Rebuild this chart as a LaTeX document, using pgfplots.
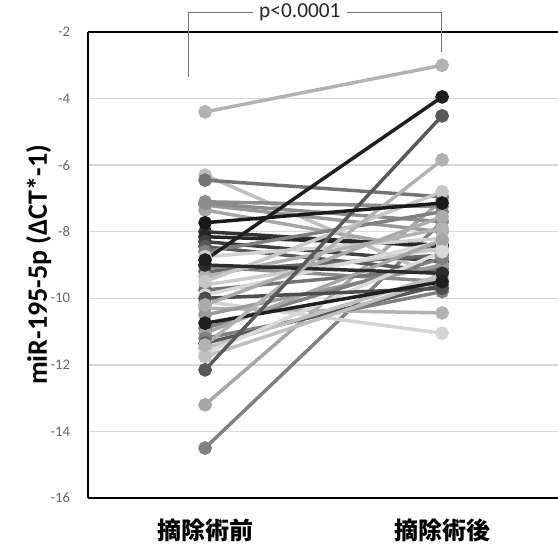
\documentclass[border=0pt]{standalone}
\usepackage{fontspec}
\setmainfont{Carlito}
\newfontfamily\cjk{Noto Sans CJK JP}
\usepackage{pgfplots}
\pgfplotsset{compat=1.18}

\begin{document}
\begin{tikzpicture}
\pgfplotsset{pair/.style={line width=2.6pt, mark=*, mark size=3.8pt, mark options={solid}}}
\begin{axis}[
    scale only axis,
    width=352.5pt, height=349.5pt,
    at={(0,0)}, anchor=south west,
    xmin=0.506, xmax=2.489,
    ymin=-16, ymax=-2,
    axis x line*=box, axis y line*=left,
    axis line style={black, line width=1pt},
    xtick={1,2},
    xticklabels={摘除術前,摘除術後},
    xticklabel style={font=\cjk\bfseries\fontsize{18}{21}\selectfont, yshift=-12pt},
    ytick={-16,-14,-12,-10,-8,-6,-4,-2},
    yticklabels={-16,-14,-12,-10,-8,-6,-4,-2},
    yticklabel style={font=\fontsize{11}{13}\selectfont, text=black!60, xshift=-10pt},
    major tick length=0pt,
    ymajorgrids,
    grid style={black!15, line width=1pt},
    ylabel={\bfseries miR-195-5p (ΔCT*-1)},
    every axis y label/.style={at={(axis description cs:-0.105,0.5)}, rotate=90, anchor=center, font=\fontsize{21}{24}\selectfont},
    clip=false,
]
% one line per patient: before / after
\addplot[pair, color=black!30] coordinates {(1,-4.4) (2,-3.0)};
\addplot[pair, color=black!50] coordinates {(1,-14.5) (2,-7.7)};
\addplot[pair, color=black!35] coordinates {(1,-13.2) (2,-7.05)};
\addplot[pair, color=black!25] coordinates {(1,-6.3) (2,-9.4)};
\addplot[pair, color=black!55] coordinates {(1,-6.45) (2,-6.95)};
\addplot[pair, color=black!45] coordinates {(1,-7.1) (2,-7.25)};
\addplot[pair, color=black!40] coordinates {(1,-7.2) (2,-8.0)};
\addplot[pair, color=black!35] coordinates {(1,-7.35) (2,-8.6)};
\addplot[pair, color=black!45] coordinates {(1,-7.15) (2,-7.7)};
\addplot[pair, color=black!80] coordinates {(1,-8.0) (2,-8.45)};
\addplot[pair, color=black!85] coordinates {(1,-8.15) (2,-8.4)};
\addplot[pair, color=black!75] coordinates {(1,-8.3) (2,-8.9)};
\addplot[pair, color=black!65] coordinates {(1,-8.45) (2,-9.2)};
\addplot[pair, color=black!50] coordinates {(1,-8.6) (2,-7.4)};
\addplot[pair, color=black!18] coordinates {(1,-8.75) (2,-8.2)};
\addplot[pair, color=black!45] coordinates {(1,-9.05) (2,-9.5)};
\addplot[pair, color=black!60] coordinates {(1,-9.2) (2,-8.7)};
\addplot[pair, color=black!30] coordinates {(1,-9.35) (2,-7.9)};
\addplot[pair, color=black!20] coordinates {(1,-9.6) (2,-8.5)};
\addplot[pair, color=black!55] coordinates {(1,-9.75) (2,-9.1)};
\addplot[pair, color=black!15] coordinates {(1,-9.9) (2,-8.3)};
\addplot[pair, color=black!17] coordinates {(1,-10.1) (2,-11.05)};
\addplot[pair, color=black!30] coordinates {(1,-10.3) (2,-10.44)};
\addplot[pair, color=black!40] coordinates {(1,-10.5) (2,-9.0)};
\addplot[pair, color=black!50] coordinates {(1,-10.9) (2,-8.8)};
\addplot[pair, color=black!35] coordinates {(1,-11.05) (2,-8.25)};
\addplot[pair, color=black!50] coordinates {(1,-11.2) (2,-9.8)};
\addplot[pair, color=black!65] coordinates {(1,-11.35) (2,-9.6)};
\addplot[pair, color=black!25] coordinates {(1,-11.5) (2,-9.3)};
\addplot[pair, color=black!15] coordinates {(1,-11.65) (2,-8.6)};
\addplot[pair, color=black!25] coordinates {(1,-11.75) (2,-9.4)};
\addplot[pair, color=black!22] coordinates {(1,-9.5) (2,-6.8)};
\addplot[pair, color=black!70] coordinates {(1,-10.0) (2,-9.7)};
\addplot[pair, color=black!33] coordinates {(1,-10.2) (2,-7.55)};
\addplot[pair, color=black!83] coordinates {(1,-9.0) (2,-9.25)};
\addplot[pair, color=black!88] coordinates {(1,-10.75) (2,-9.5)};
\addplot[pair, color=black!30] coordinates {(1,-11.4) (2,-5.84)};
\addplot[pair, color=black!65] coordinates {(1,-12.15) (2,-4.52)};
\addplot[pair, color=black!90] coordinates {(1,-7.73) (2,-7.14)};
\addplot[pair, color=black!88] coordinates {(1,-8.85) (2,-3.95)};
% significance bracket
\draw[black!55, line width=0.75pt] (axis cs:0.932,-3.35) |- (axis cs:1.996,-1.4) -- (axis cs:1.996,-2.6);
\node[fill=white, inner xsep=5pt, inner ysep=1pt, text=black!85, font=\fontsize{16}{18}\selectfont] at (axis cs:1.40,-1.4) {p<0.0001};
\end{axis}
\pgfresetboundingbox
\useasboundingbox (-66pt,-36pt) rectangle (352.5pt,373.5pt);
\end{tikzpicture}
\end{document}
